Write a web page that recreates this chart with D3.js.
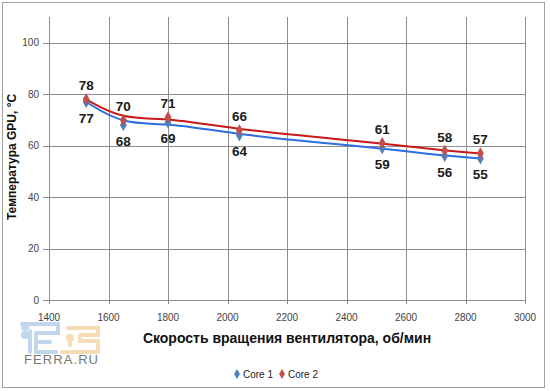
<!DOCTYPE html>
<html>
  <head>
    <style>
      body,
      html {
        margin: 0;
        padding: 0;
        background: #fff;
      }
      text {
        font-family: 'Liberation Sans', Arial, sans-serif;
      }
    </style>
  </head>
  <body>
    <svg id="svg" width="550" height="391"></svg>

    <script src="https://cdn.jsdelivr.net/npm/d3@7"></script>
    <script>
      const rpm = [1525, 1650, 1800, 2040, 2520, 2730, 2850];
      const core1 = [77, 68, 69, 64, 59, 56, 55];
      const core2 = [78, 70, 71, 66, 61, 58, 57];
      const xTicks = [1400, 1600, 1800, 2000, 2200, 2400, 2600, 2800, 3000];
      const yTicks = [0, 20, 40, 60, 80, 100];
      const seriesNames = ['Core 1', 'Core 2'];

      const svg = d3.select('#svg');
      const xScale = d3.scaleLinear().domain([1400, 3000]).range([49, 525]);
      const yScale = d3.scaleLinear().domain([0, 110]).range([300, 17]);

      // outer frame
      svg
        .append('rect')
        .attr('x', 2.5)
        .attr('y', 2.5)
        .attr('width', 542)
        .attr('height', 385)
        .attr('fill', '#fff')
        .attr('stroke', '#a0a0a0');

      const gridColor = '#8e8e8e';
      // horizontal grid
      svg
        .selectAll('.hgrid')
        .data(yTicks)
        .join('line')
        .attr('x1', xScale(1400) - 6)
        .attr('x2', xScale(3000))
        .attr('y1', (d) => Math.round(yScale(d)) + 0.5)
        .attr('y2', (d) => Math.round(yScale(d)) + 0.5)
        .attr('stroke', gridColor);
      // vertical grid
      svg
        .selectAll('.vgrid')
        .data(xTicks)
        .join('line')
        .attr('x1', (d) => Math.round(xScale(d)) + 0.5)
        .attr('x2', (d) => Math.round(xScale(d)) + 0.5)
        .attr('y1', yScale(110))
        .attr('y2', yScale(0) + 4)
        .attr('stroke', gridColor);

      // tick labels
      svg
        .selectAll('.ylab')
        .data(yTicks)
        .join('text')
        .attr('x', 39)
        .attr('y', (d) => yScale(d))
        .attr('dy', '0.35em')
        .attr('text-anchor', 'end')
        .attr('font-size', 10)
        .attr('fill', '#444')
        .text((d) => d);
      svg
        .selectAll('.xlab')
        .data(xTicks)
        .join('text')
        .attr('x', (d) => xScale(d))
        .attr('y', 321)
        .attr('text-anchor', 'middle')
        .attr('font-size', 10)
        .attr('fill', '#444')
        .text((d) => d);

      // axis titles
      svg
        .append('text')
        .attr('x', 287)
        .attr('y', 343)
        .attr('text-anchor', 'middle')
        .attr('font-size', 14)
        .attr('font-weight', 'bold')
        .attr('fill', '#111')
        .text('Скорость вращения вентилятора, об/мин');
      svg
        .append('text')
        .attr('transform', 'translate(16,157) rotate(-90)')
        .attr('text-anchor', 'middle')
        .attr('font-size', 12)
        .attr('font-weight', 'bold')
        .attr('fill', '#111')
        .text('Температура GPU, °С');

      const series = [
        { name: seriesNames[0], values: core1, line: '#2a6ee0', marker: '#4f81bd', dy: 16 },
        { name: seriesNames[1], values: core2, line: '#c81818', marker: '#c0504d', dy: -14 },
      ];

      const linegen = d3
        .line()
        .x((d, i) => xScale(rpm[i]))
        .y((d) => yScale(d))
        .curve(d3.curveBasis);

      const diamond = d3.symbol().type(d3.symbolDiamond).size(42);

      series.forEach((s) => {
        svg
          .append('path')
          .attr('d', linegen(s.values))
          .attr('fill', 'none')
          .attr('stroke', s.line)
          .attr('stroke-width', 2);
      });
      series.forEach((s) => {
        svg
          .selectAll(null)
          .data(s.values)
          .join('path')
          .attr('d', diamond)
          .attr('transform', (d, i) => `translate(${xScale(rpm[i])},${yScale(d)})`)
          .attr('fill', s.marker);
        svg
          .selectAll(null)
          .data(s.values)
          .join('text')
          .attr('x', (d, i) => xScale(rpm[i]))
          .attr('y', (d) => yScale(d) + s.dy)
          .attr('dy', '0.36em')
          .attr('text-anchor', 'middle')
          .attr('font-family', "'DejaVu Sans', Verdana, sans-serif")
          .attr('font-size', 13.5)
          .attr('font-weight', 'bold')
          .attr('fill', '#1a1a1a')
          .text((d) => d);
      });

      // legend
      const legend = svg.append('g').attr('transform', 'translate(237,374)');
      series.forEach((s, i) => {
        const g = legend.append('g').attr('transform', `translate(${i * 45},0)`);
        g.append('path').attr('d', d3.symbol().type(d3.symbolDiamond).size(30)).attr('fill', s.marker);
        g.append('text')
          .attr('x', 6)
          .attr('dy', '0.35em')
          .attr('font-size', 10)
          .attr('fill', '#222')
          .text(s.name);
      });

      // watermark
      const wm = svg.append('g').attr('opacity', 0.55);
      wm.append('path')
        .attr('d', 'M22,324 H58 V333 H36 M30,331 V352 M36,335 V352 H56 M36,342 H50')
        .attr('fill', 'none')
        .attr('stroke', '#8fb4e0')
        .attr('stroke-width', 4)
        .attr('stroke-linecap', 'round');
      wm.append('circle').attr('cx', 25).attr('cy', 327).attr('r', 4).attr('fill', '#8fb4e0');
      wm.append('circle').attr('cx', 25).attr('cy', 335).attr('r', 4).attr('fill', '#8fb4e0');
      wm.append('path')
        .attr('d', 'M68,328 H98 V335 H80 M70,336 V345 M80,338 V341 H98 V352 H62')
        .attr('fill', 'none')
        .attr('stroke', '#f2c27a')
        .attr('stroke-width', 4)
        .attr('stroke-linecap', 'round');
      wm.append('circle').attr('cx', 70).attr('cy', 338).attr('r', 4).attr('fill', '#f2c27a');
      svg
        .append('text')
        .attr('x', 24)
        .attr('y', 364)
        .attr('font-size', 13)
        .attr('fill', '#777')
        .attr('textLength', 74)
        .text('FERRA.RU');
    </script>
  </body>
</html>
